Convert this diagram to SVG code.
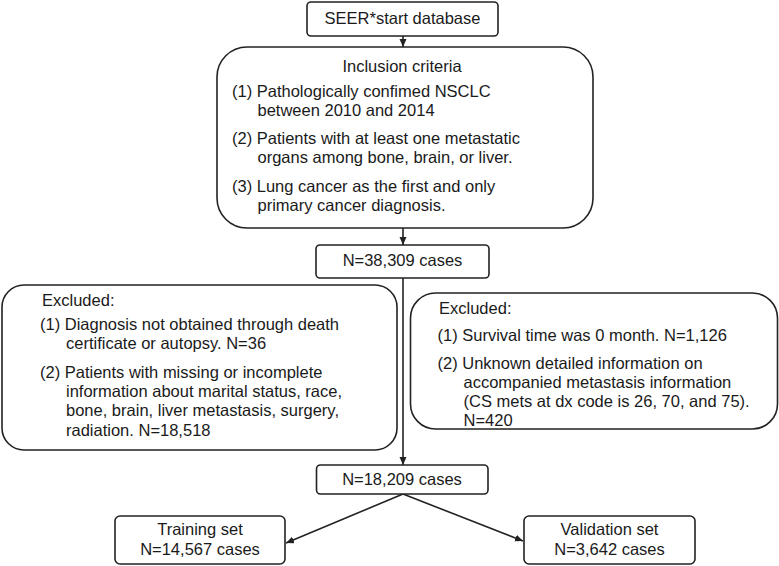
<svg xmlns="http://www.w3.org/2000/svg" width="779" height="566" viewBox="0 0 779 566">
<style>
.box{fill:#fff;stroke:#222;stroke-width:1.6}
.t{font-family:"Liberation Sans",Arial,sans-serif;font-size:16.5px;fill:#1a1a1a}
.c{text-anchor:middle}
.ln{stroke:#222;stroke-width:1.6;fill:none}
</style>
<defs>
<marker id="ah" markerUnits="userSpaceOnUse" markerWidth="9" markerHeight="8" refX="8" refY="3.5" orient="auto">
<path d="M0,0 L8,3.5 L0,7 z" fill="#222"/>
</marker>
</defs>
<rect width="779" height="566" fill="#fff"/>
<g id="connectors">
<line class="ln" x1="403" y1="36" x2="403" y2="47" marker-end="url(#ah)"/>
<line class="ln" x1="403" y1="228" x2="403" y2="245" marker-end="url(#ah)"/>
<line class="ln" x1="403" y1="278" x2="403" y2="465" marker-end="url(#ah)"/>
<line class="ln" x1="403" y1="494" x2="286" y2="543" marker-end="url(#ah)"/>
<line class="ln" x1="403" y1="494" x2="523" y2="541" marker-end="url(#ah)"/>
</g>
<g id="seer">
<rect class="box" x="307" y="2" width="191" height="34" rx="4"/>
<text class="t c" x="402.5" y="24">SEER*start database</text>
</g>
<g id="inclusion">
<rect class="box" x="217" y="47" width="376" height="181" rx="30"/>
<text class="t c" x="402" y="72">Inclusion criteria</text>
<text class="t" x="232" y="97">(1) Pathologically confimed NSCLC</text>
<text class="t" x="257.5" y="116">between 2010 and 2014</text>
<text class="t" x="232" y="144">(2) Patients with at least one metastatic</text>
<text class="t" x="257.5" y="163">organs among bone, brain, or liver.</text>
<text class="t" x="232" y="192">(3) Lung cancer as the first and only</text>
<text class="t" x="257.5" y="211">primary cancer diagnosis.</text>
</g>
<g id="n38309">
<rect class="box" x="316" y="245" width="173" height="33" rx="4"/>
<text class="t c" x="402.5" y="266">N=38,309 cases</text>
</g>
<g id="excluded-left">
<rect class="box" x="2" y="285" width="395" height="165" rx="22"/>
<text class="t" x="42" y="306">Excluded:</text>
<text class="t" x="40" y="330">(1) Diagnosis not obtained through death</text>
<text class="t" x="66" y="349">certificate or autopsy. N=36</text>
<text class="t" x="40" y="378">(2) Patients with missing or incomplete</text>
<text class="t" x="66" y="397">information about marital status, race,</text>
<text class="t" x="66" y="416">bone, brain, liver metastasis, surgery,</text>
<text class="t" x="66" y="436">radiation. N=18,518</text>
</g>
<g id="excluded-right">
<rect class="box" x="410.5" y="293" width="367" height="136" rx="25"/>
<text class="t" x="439" y="314">Excluded:</text>
<text class="t" x="437.5" y="341">(1) Survival time was 0 month. N=1,126</text>
<text class="t" x="437.5" y="369">(2) Unknown detailed information on</text>
<text class="t" x="463.5" y="388">accompanied metastasis information</text>
<text class="t" x="463.5" y="407">(CS mets at dx code is 26, 70, and 75).</text>
<text class="t" x="463.5" y="426">N=420</text>
</g>
<g id="n18209">
<rect class="box" x="316.5" y="465" width="171.5" height="29" rx="4"/>
<text class="t c" x="402" y="485">N=18,209 cases</text>
</g>
<g id="training">
<rect class="box" x="115" y="516" width="170" height="48" rx="5"/>
<text class="t c" x="200" y="535">Training set</text>
<text class="t c" x="200" y="555">N=14,567 cases</text>
</g>
<g id="validation">
<rect class="box" x="524" y="516" width="171" height="48" rx="5"/>
<text class="t c" x="609.5" y="535">Validation set</text>
<text class="t c" x="609.5" y="555">N=3,642 cases</text>
</g>
</svg>
